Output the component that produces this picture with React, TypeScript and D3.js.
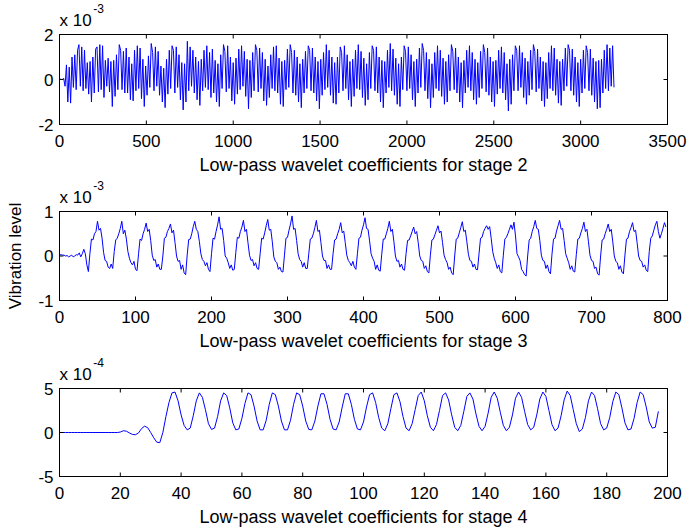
import React from "react";
import * as d3 from "d3";

// ---------- DATA ----------
// Stage 2 coefficients (x 1e-3), sampled every 8 coefficients
const STAGE2_STEP = 8;
const stage2Values = [
  0.02, 0.01, 0.0, 0.05, -0.3, 0.65, -1.0, 0.55, -1.05, 1.0,
  -0.35, 1.1, -0.45, 1.3, 1.55, -0.3, 1.45, -0.5, 1.3, -0.4,
  0.75, -0.65, 0.8, -1.0, 1.0, -0.6, 1.35, 1.45, -0.55, 1.55,
  -0.45, 1.5, -0.8, 0.85, -0.3, 0.95, -0.55, 0.8, -1.2, 0.85,
  -0.75, 1.1, -0.45, 1.55, 1.3, -0.45, 1.25, -0.6, 1.4, -0.6,
  1.0, -0.9, 0.7, -0.95, 1.3, -0.5, 1.5, -0.4, 1.4, -0.85,
  0.9, -1.2, 0.6, -0.7, 1.05, -0.35, 1.6, 1.2, -0.5, 1.45,
  -0.3, 1.25, -0.7, 0.6, -1.0, 0.5, -1.25, 0.9, -0.65, 1.3,
  -0.4, 1.5, 1.3, -0.6, 1.45, -0.35, 1.1, -0.9, 0.75, -1.35,
  0.7, -1.0, 1.7, -0.5, 1.45, -0.3, 1.3, -0.6, 1.0, -0.9,
  0.8, -1.15, 0.9, -0.5, 1.3, -0.35, 1.5, -0.45, 1.2, -0.8,
  1.35, -0.6, 0.85, -1.0, 0.7, -1.2, 1.1, -0.4, 1.55, 1.25,
  -0.55, 1.5, -0.4, 1.0, -0.95, 0.75, -1.1, 0.95, -0.65, 1.35,
  -0.45, 1.5, -0.3, 1.25, -0.75, 0.9, -1.3, 0.85, -0.8, 1.2,
  -0.5, 1.55, 1.3, -0.55, 1.4, -0.4, 1.2, -0.95, 0.9, -1.15,
  0.6, -0.8, 1.1, -0.4, 1.45, -0.5, 1.5, -0.6, 0.95, -1.1,
  0.8, -1.2, 0.85, -0.45, 1.35, -0.35, 1.55, 1.2, -0.6, 1.3,
  -0.7, 1.0, -1.0, 0.7, -1.25, 0.9, -0.6, 1.25, -0.4, 1.5,
  1.3, -0.5, 1.4, -0.6, 1.0, -0.95, 0.8, -1.3, 0.9, -0.7,
  1.2, -0.45, 1.55, -0.35, 1.3, -0.7, 1.0, -1.05, 0.75, -1.1,
  1.0, -0.6, 1.45, 1.2, -0.5, 1.5, -0.4, 1.1, -0.9, 0.8,
  -1.2, 0.9, -0.75, 1.3, -0.4, 1.55, -0.45, 1.25, -0.8, 0.95,
  -1.15, 0.7, -0.9, 1.2, -0.4, 1.5, 1.3, -0.5, 1.45, -0.6,
  1.0, -1.0, 0.85, -1.25, 0.8, -0.6, 1.3, -0.35, 1.6, -0.5,
  1.35, -0.7, 0.95, -1.1, 0.7, -1.2, 1.0, -0.45, 1.5, 1.25,
  -0.5, 1.45, -0.4, 1.1, -0.9, 0.8, -1.2, 0.9, -0.6, 1.4,
  -0.35, 1.6, 1.3, -0.5, 1.2, -0.85, 0.9, -1.25, 0.7, -0.8,
  1.2, -0.4, 1.5, -0.5, 1.3, -0.75, 0.95, -1.1, 0.8, -1.0,
  1.1, -0.5, 1.55, 1.25, -0.45, 1.4, -0.6, 1.0, -1.0, 0.75,
  -1.25, 0.85, -0.6, 1.3, -0.35, 1.5, -0.5, 1.2, -0.9, 0.9,
  -1.1, 0.75, -0.8, 1.25, -0.4, 1.55, 1.2, -0.55, 1.4, -0.7,
  1.0, -1.0, 0.8, -1.2, 0.85, -0.65, 1.3, -0.4, 1.45, -0.6,
  1.2, -0.9, 0.7, -1.4, 0.9, -1.1, 1.1, -0.5, 1.5, 1.3,
  -0.5, 1.5, -0.35, 1.2, -0.8, 0.95, -1.1, 0.8, -0.7, 1.3,
  -0.45, 1.55, 1.25, -0.55, 1.35, -0.4, 1.0, -0.95, 0.8, -1.2,
  0.75, -0.85, 1.2, -0.4, 1.5, -0.5, 1.4, -0.7, 0.9, -1.05,
  0.8, -1.15, 0.9, -0.5, 1.4, -0.3, 1.55, 1.3, -0.5, 1.35,
  -0.7, 1.0, -1.0, 0.75, -1.2, 0.9, -0.6, 1.3, -0.4, 1.5,
  1.2, -0.5, 1.35, -0.7, 0.95, -1.0, 0.8, -1.3, 0.85, -1.25,
  0.9, -0.6, 1.3, -0.4, 1.55, -0.5, 1.4, -0.3, 1.5, -0.35,
];

// Stage 3 coefficients (x 1e-3), sampled every 2 coefficients
const STAGE3_STEP = 2;
const stage3Values = [
  0.02, 0.03, 0.02, 0.02, 0.0, 0.01, -0.02, 0.0, 0.02, -0.02, 0.0, 0.03, 0.02, 0.07, -0.02, 0.05, 0.15, 0.05, -0.2,
  -0.35, 0.05, 0.38, 0.36, 0.5, 0.55, 0.78, 0.58, 0.62, 0.4, 0.08, -0.1, -0.12, -0.25, -0.28, -0.18,
  -0.28, 0.1, 0.36, 0.4, 0.5, 0.62, 0.78, 0.5, 0.58, 0.38, 0.1, -0.05, -0.15, -0.2, -0.12, -0.3,
  -0.33, 0.05, 0.38, 0.35, 0.5, 0.6, 0.74, 0.55, 0.6, 0.35, 0.02, -0.1, -0.08, -0.25, -0.18, -0.3,
  -0.3, 0.0, 0.4, 0.42, 0.55, 0.62, 0.72, 0.52, 0.58, 0.3, 0.0, -0.12, -0.1, -0.3, -0.2, -0.38,
  -0.42, 0.02, 0.37, 0.38, 0.5, 0.66, 0.78, 0.6, 0.55, 0.33, 0.05, -0.08, -0.12, -0.22, -0.15, -0.3,
  -0.35, 0.05, 0.4, 0.38, 0.55, 0.7, 0.88, 0.6, 0.62, 0.35, 0.0, -0.05, -0.15, -0.28, -0.2, -0.32,
  -0.3, 0.08, 0.42, 0.4, 0.55, 0.65, 0.8, 0.55, 0.6, 0.3, 0.02, -0.1, -0.08, -0.22, -0.15, -0.28,
  -0.3, 0.05, 0.4, 0.38, 0.52, 0.68, 0.82, 0.58, 0.6, 0.32, -0.02, -0.12, -0.15, -0.3, -0.25, -0.35,
  -0.36, 0.02, 0.4, 0.42, 0.58, 0.72, 0.9, 0.6, 0.62, 0.35, 0.05, -0.08, -0.12, -0.25, -0.15, -0.28,
  -0.28, 0.05, 0.38, 0.4, 0.5, 0.64, 0.8, 0.55, 0.58, 0.3, 0.0, -0.1, -0.1, -0.28, -0.2, -0.3,
  -0.3, 0.06, 0.36, 0.38, 0.5, 0.6, 0.75, 0.52, 0.56, 0.3, 0.02, -0.1, -0.15, -0.22, -0.12, -0.25,
  -0.3, 0.05, 0.4, 0.42, 0.58, 0.7, 0.86, 0.62, 0.6, 0.34, 0.05, -0.05, -0.12, -0.3, -0.2, -0.32,
  -0.34, 0.04, 0.38, 0.38, 0.5, 0.62, 0.78, 0.55, 0.6, 0.32, 0.0, -0.12, -0.1, -0.25, -0.18, -0.3,
  -0.32, 0.05, 0.35, 0.36, 0.45, 0.55, 0.65, 0.5, 0.55, 0.3, 0.0, -0.1, -0.12, -0.28, -0.22, -0.35,
  -0.38, 0.02, 0.36, 0.38, 0.48, 0.58, 0.68, 0.52, 0.56, 0.3, 0.02, -0.08, -0.15, -0.3, -0.25, -0.38,
  -0.42, 0.0, 0.38, 0.4, 0.52, 0.64, 0.77, 0.55, 0.58, 0.32, 0.04, -0.1, -0.12, -0.25, -0.18, -0.3,
  -0.31, 0.05, 0.4, 0.42, 0.55, 0.62, 0.68, 0.6, 0.66, 0.4, 0.1, -0.05, -0.15, -0.28, -0.2, -0.35,
  -0.38, 0.02, 0.38, 0.42, 0.5, 0.6, 0.7, 0.6, 0.76, 0.45, 0.05, -0.02, -0.1, -0.3, -0.35, -0.42,
  -0.45, 0.0, 0.36, 0.4, 0.55, 0.66, 0.8, 0.62, 0.6, 0.35, 0.02, -0.1, -0.12, -0.28, -0.2, -0.35,
  -0.4, 0.04, 0.38, 0.4, 0.56, 0.68, 0.8, 0.6, 0.62, 0.35, 0.05, -0.05, -0.15, -0.3, -0.22, -0.34,
  -0.36, 0.03, 0.38, 0.4, 0.52, 0.62, 0.76, 0.55, 0.6, 0.32, 0.02, -0.1, -0.12, -0.28, -0.25, -0.4,
  -0.43, 0.0, 0.36, 0.38, 0.5, 0.6, 0.72, 0.55, 0.6, 0.32, 0.0, -0.12, -0.15, -0.3, -0.22, -0.36,
  -0.4, 0.02, 0.38, 0.4, 0.55, 0.64, 0.75, 0.55, 0.58, 0.3, 0.0, -0.1, -0.12, -0.25, -0.2, -0.32,
  -0.35, 0.1, 0.4, 0.45, 0.58, 0.7, 0.78, 0.55, 0.4, 0.5, 0.62, 0.75, 0.65,
];

// Stage 4 coefficients (x 1e-4), one per coefficient starting at index 1
const STAGE4_START = 1;
const stage4Values = [
  0, 0, 0, 0, 0, 0, 0, 0, 0, 0, 0, 0, 0, 0, 0, 0, 0, 0, 0,
  0.05, 0.2, 0.15, -0.05, -0.22, -0.25, -0.05, 0.45, 0.72, 0.55,
  0.0, -0.6, -1.1, -1.15, 0.0, 1.8, 3.4, 4.5, 4.6, 3.6,
  2.0, 0.8, 0.3, 0.5, 1.9, 3.6, 4.5, 4.0, 2.6, 1.0,
  0.35, 0.5, 1.8, 3.6, 4.5, 4.2, 2.8, 1.1, 0.3, 0.4,
  1.6, 3.3, 4.5, 4.3, 3.0, 1.3, 0.3, 0.3, 1.4, 3.2,
  4.5, 4.3, 3.0, 1.3, 0.3, 0.3, 1.4, 3.2, 4.5, 4.3,
  3.0, 1.3, 0.35, 0.3, 1.3, 3.0, 4.4, 4.4, 3.2, 1.5,
  0.4, 0.3, 1.2, 2.9, 4.4, 4.4, 3.2, 1.5, 0.4, 0.3,
  1.2, 2.9, 4.3, 4.5, 3.4, 1.7, 0.5, 0.2, 1.0, 2.7,
  4.3, 4.5, 3.5, 1.8, 0.5, 0.2, 1.0, 2.6, 4.2, 4.6,
  3.6, 1.9, 0.6, 0.2, 0.9, 2.5, 4.2, 4.5, 3.7, 2.0,
  0.6, 0.2, 0.8, 2.4, 4.1, 4.5, 3.8, 2.1, 0.7, 0.2,
  0.7, 2.2, 4.0, 4.6, 3.9, 2.3, 0.8, 0.2, 0.6, 2.0,
  3.9, 4.6, 4.0, 2.4, 0.9, 0.3, 0.6, 2.0, 3.8, 4.6,
  4.1, 2.5, 0.9, 0.2, 0.5, 1.9, 3.7, 4.7, 4.2, 2.6,
  1.0, 0.1, 0.4, 1.7, 3.6, 4.6, 4.2, 2.7, 1.0, 0.3,
  0.5, 1.7, 3.5, 4.6, 4.3, 2.8, 1.1, 0.3, 0.4, 1.6,
  3.4, 4.6, 4.3, 2.9, 1.2, 0.5, 0.6, 2.4,
];

const stage2XTicks = [0, 500, 1000, 1500, 2000, 2500, 3000, 3500];
const stage3XTicks = [0, 100, 200, 300, 400, 500, 600, 700, 800];
const stage4XTicks = [0, 20, 40, 60, 80, 100, 120, 140, 160, 180, 200];
const stage2YTicks = [-2, 0, 2];
const stage3YTicks = [-1, 0, 1];
const stage4YTicks = [-5, 0, 5];
const xLabels = [
  "Low-pass wavelet coefficients for stage 2",
  "Low-pass wavelet coefficients for stage 3",
  "Low-pass wavelet coefficients for stage 4",
];
const exponents = ["-3", "-3", "-4"];
const yAxisLabel = "Vibration level";

// ---------- LAYOUT ----------
const W = 687;
const H = 529;
const LEFT = 59.5;
const RIGHT = 667.5;
const FONT = "'Liberation Sans', Arial, Helvetica, sans-serif";
const TICK_FS = 17;
const LABEL_FS = 18;
const TICK_LEN = 4;

type PanelSpec = {
  top: number;
  bottom: number;
  points: [number, number][];
  xTicks: number[];
  yTicks: number[];
  xLabel: string;
  exponent: string;
};

const panels: PanelSpec[] = [
  {
    top: 34.5,
    bottom: 124.5,
    points: stage2Values.map((v, i) => [i * STAGE2_STEP, v] as [number, number]),
    xTicks: stage2XTicks,
    yTicks: stage2YTicks,
    xLabel: xLabels[0],
    exponent: exponents[0],
  },
  {
    top: 211.5,
    bottom: 300.5,
    points: stage3Values.map((v, i) => [i * STAGE3_STEP, v] as [number, number]),
    xTicks: stage3XTicks,
    yTicks: stage3YTicks,
    xLabel: xLabels[1],
    exponent: exponents[1],
  },
  {
    top: 388.5,
    bottom: 476.5,
    points: stage4Values.map((v, i) => [i + STAGE4_START, v] as [number, number]),
    xTicks: stage4XTicks,
    yTicks: stage4YTicks,
    xLabel: xLabels[2],
    exponent: exponents[2],
  },
];

function Panel({ spec }: { spec: PanelSpec }) {
  const x = d3
    .scaleLinear()
    .domain(d3.extent(spec.xTicks) as [number, number])
    .range([LEFT, RIGHT]);
  const y = d3
    .scaleLinear()
    .domain(d3.extent(spec.yTicks) as [number, number])
    .range([spec.bottom, spec.top]);
  const line = d3
    .line<[number, number]>()
    .x((d) => x(d[0]))
    .y((d) => y(d[1]));
  const cx = (LEFT + RIGHT) / 2;
  return (
    <g>
      <path d={line(spec.points) || ""} fill="none" stroke="#0000ff" strokeWidth={1} />
      <rect
        x={LEFT}
        y={spec.top}
        width={RIGHT - LEFT}
        height={spec.bottom - spec.top}
        fill="none"
        stroke="#000"
        strokeWidth={1}
      />
      {spec.xTicks.map((t) => (
        <g key={"xt" + t}>
          <line x1={x(t)} x2={x(t)} y1={spec.bottom} y2={spec.bottom - TICK_LEN} stroke="#000" />
          <line x1={x(t)} x2={x(t)} y1={spec.top} y2={spec.top + TICK_LEN} stroke="#000" />
          <text
            x={x(t)}
            y={spec.bottom + 22}
            textAnchor="middle"
            fontSize={TICK_FS}
            fontFamily={FONT}
            fill="#000"
          >
            {t}
          </text>
        </g>
      ))}
      {spec.yTicks.map((t) => (
        <g key={"yt" + t}>
          <line x1={LEFT} x2={LEFT + TICK_LEN} y1={y(t)} y2={y(t)} stroke="#000" />
          <line x1={RIGHT} x2={RIGHT - TICK_LEN} y1={y(t)} y2={y(t)} stroke="#000" />
          <text
            x={LEFT - 6}
            y={y(t) + 6}
            textAnchor="end"
            fontSize={TICK_FS}
            fontFamily={FONT}
            fill="#000"
          >
            {t}
          </text>
        </g>
      ))}
      <text
        x={cx}
        y={spec.bottom + 46}
        textAnchor="middle"
        fontSize={LABEL_FS}
        fontFamily={FONT}
        fill="#000"
      >
        {spec.xLabel}
      </text>
      <text x={LEFT} y={spec.top - 8.5} fontSize={TICK_FS} fontFamily={FONT} fill="#000">
        x 10
        <tspan fontSize={12} dy={-13} dx={1.5}>
          {spec.exponent}
        </tspan>
      </text>
    </g>
  );
}

export default function App() {
  return (
    <svg
      width={W}
      height={H}
      style={{ display: "block", position: "absolute", left: 0, top: 0, background: "#fff" }}
    >
      <rect x={0} y={0} width={W} height={H} fill="#fff" />
      {panels.map((p, i) => (
        <Panel key={i} spec={p} />
      ))}
      <text
        transform={`translate(21, 256) rotate(-90)`}
        textAnchor="middle"
        fontSize={TICK_FS}
        fontFamily={FONT}
        fill="#000"
      >
        {yAxisLabel}
      </text>
    </svg>
  );
}
